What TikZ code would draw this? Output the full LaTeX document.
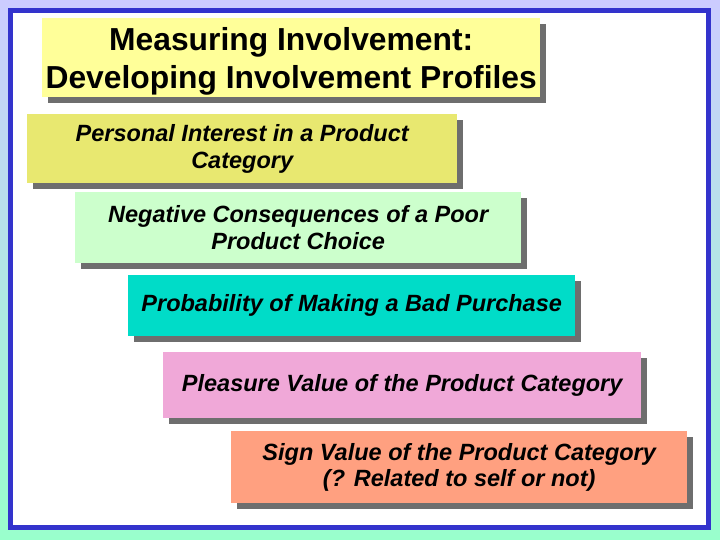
\documentclass[tikz,border=0pt]{standalone}
\usepackage{fontspec}
\setmainfont{Liberation Sans}
\usetikzlibrary{shadows}

\definecolor{bgtop}{RGB}{204,204,255}
\definecolor{bgbottom}{RGB}{153,255,204}
\definecolor{frameblue}{RGB}{51,51,204}
\definecolor{shadowgray}{RGB}{110,110,110}
\definecolor{titlefill}{RGB}{255,255,153}
\definecolor{interestfill}{RGB}{232,232,112}
\definecolor{riskfill}{RGB}{204,255,204}
\definecolor{probfill}{RGB}{0,220,200}
\definecolor{pleasurefill}{RGB}{240,168,216}
\definecolor{signfill}{RGB}{255,160,128}

\begin{document}
\begin{tikzpicture}[x=1pt,y=-1pt,
        box/.style={anchor=north west,inner sep=0pt,align=center,
            font=\fontsize{23.5}{26.5}\selectfont\bfseries\itshape,
            drop shadow={shadow xshift=6pt,shadow yshift=-6pt,fill=shadowgray,opacity=1}},
        title text/.style={align=center,inner sep=0pt,font=\fontsize{31.8}{38}\selectfont\bfseries}]
        \useasboundingbox (0,0) rectangle (720,540);
        % background and frame
        \shade[top color=bgtop,bottom color=bgbottom] (0,0) rectangle (720,540);
        \draw[frameblue,line width=5pt,fill=white] (10.5,10.5) rectangle (708,527.5);
        % title
        \node[box,fill=titlefill,minimum width=498pt,minimum height=79pt] (title) at (42,18) {};
        \node[title text] (title text) at ([yshift=-4pt]title.center)
            {Measuring Involvement:\\Developing Involvement Profiles};
        % profile boxes
        \node[box,fill=interestfill,minimum width=430pt,minimum height=69pt] (interest) at (27,114)
            {Personal Interest in a Product\\Category};
        \node[box,fill=riskfill,minimum width=446pt,minimum height=71pt] (risk) at (75,192)
            {Negative Consequences of a Poor\\Product Choice};
        \node[box,fill=probfill,minimum width=447pt,minimum height=61pt] (prob) at (128,275)
            {Probability of Making a Bad Purchase};
        \node[box,fill=pleasurefill,minimum width=478pt,minimum height=66pt] (pleasure) at (163,352)
            {Pleasure Value of the Product Category};
        \node[box,fill=signfill,minimum width=456pt,minimum height=72pt] (sign) at (231,431)
            {Sign Value of the Product Category\\(? Related to self or not)};
\end{tikzpicture}
\end{document}
